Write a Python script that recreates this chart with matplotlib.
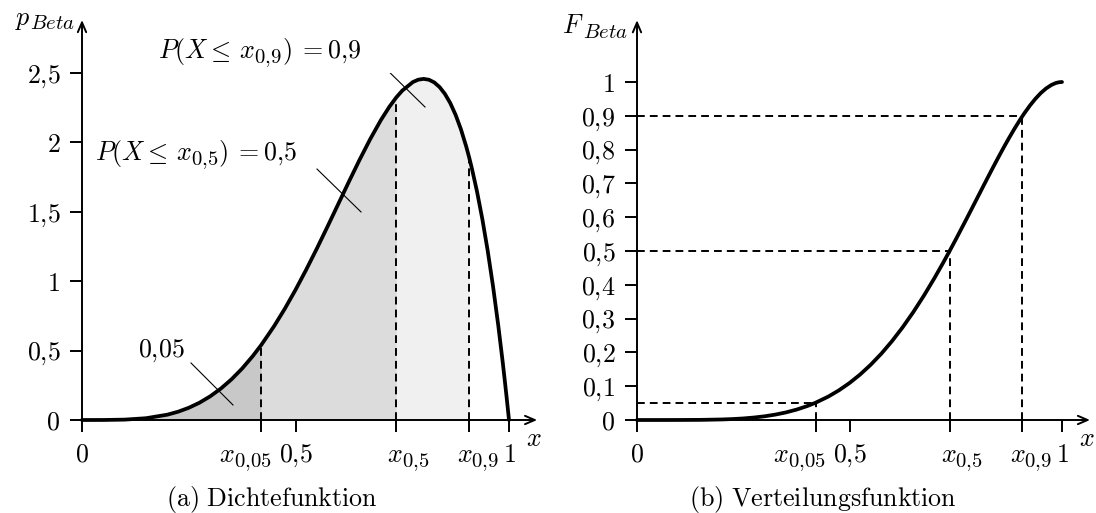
import numpy as np
import matplotlib
matplotlib.use('Agg')
import matplotlib.pyplot as plt

plt.rcParams['mathtext.fontset'] = 'cm'
plt.rcParams['font.family'] = 'DejaVu Serif'

# ---------------- data ----------------
x_vals = [0.0, 0.05, 0.1, 0.15, 0.2, 0.225, 0.25, 0.275, 0.3, 0.325, 0.35, 0.375,
          0.4, 0.42, 0.45, 0.475, 0.5, 0.525, 0.55, 0.575, 0.6, 0.625, 0.65,
          0.675, 0.7, 0.72, 0.736, 0.75, 0.775, 0.7875, 0.8, 0.8125, 0.825,
          0.8375, 0.85, 0.8625, 0.875, 0.8875, 0.9, 0.907, 0.9125, 0.925,
          0.9375, 0.95, 0.9625, 0.975, 0.985, 0.99, 0.995, 1.0]
pdf_vals = [0.0, 0.0002, 0.0027, 0.0129, 0.0384, 0.0596, 0.0879, 0.1244, 0.1701,
            0.2259, 0.2926, 0.3708, 0.4608, 0.5414, 0.6766, 0.8018, 0.9375, 1.0826,
            1.2353, 1.3937, 1.5552, 1.7166, 1.8743, 2.0240, 2.1609, 2.2574, 2.3240,
            2.3730, 2.4351, 2.4518, 2.4576, 2.4514, 2.4321, 2.3984, 2.3490, 2.2828,
            2.1982, 2.0939, 1.9683, 1.8881, 1.8200, 1.6472, 1.4484, 1.2218, 0.9655,
            0.6778, 0.4236, 0.2882, 0.1470, 0.0]
cdf_vals = [0.0, 0.0, 0.0001, 0.0004, 0.0016, 0.0028, 0.0046, 0.0073, 0.0109,
            0.0159, 0.0223, 0.0306, 0.0410, 0.0510, 0.0692, 0.0877, 0.1094, 0.1346,
            0.1636, 0.1964, 0.2333, 0.2742, 0.3191, 0.3678, 0.4202, 0.4644, 0.5010,
            0.5339, 0.5941, 0.6247, 0.6554, 0.6861, 0.7166, 0.7468, 0.7765, 0.8055,
            0.8335, 0.8603, 0.8857, 0.8992, 0.9094, 0.9311, 0.9505, 0.9672, 0.9809,
            0.9912, 0.9968, 0.9985, 0.9996, 1.0]
levels = [0.05, 0.5, 0.9]
quantiles = [0.42, 0.736, 0.907]
q_subs = ['0{,}05', '0{,}5', '0{,}9']
pdf_yticks = [0, 0.5, 1, 1.5, 2, 2.5]
pdf_yticklabels = ['0', '0{,}5', '1', '1{,}5', '2', '2{,}5']
cdf_yticks = [0, 0.1, 0.2, 0.3, 0.4, 0.5, 0.6, 0.7, 0.8, 0.9, 1.0]
cdf_yticklabels = ['0', '0{,}1', '0{,}2', '0{,}3', '0{,}4', '0{,}5', '0{,}6',
                   '0{,}7', '0{,}8', '0{,}9', '1']
fill_colors = ['#c8c8c8', '#dcdcdc', '#f0f0f0']

FS = 18.7
SFS = FS * 0.8
DROP = 5
W, H = 1096, 513
fig = plt.figure(figsize=(W / 100, H / 100), dpi=100)
renderer = fig.canvas.get_renderer()

def seq_text(xp, yp, parts, ha='left'):
    """Lay out text pieces one after another; (xp, yp) in pixels, top origin,
    yp is the baseline. parts: (string, fontsize, baseline shift px, kern px)."""
    objs, widths = [], []
    for s, fs, dy, kern in parts:
        t = fig.text(0, 0, s, fontsize=fs, ha='left', va='baseline')
        objs.append((t, dy, kern))
        widths.append(t.get_window_extent(renderer).width + kern)
    total = sum(widths)
    x0 = xp - {'left': 0, 'center': total / 2, 'right': total}[ha]
    for (t, dy, kern), w in zip(objs, widths):
        t.set_position(((x0 + kern) / W, 1 - (yp + dy) / H))
        x0 += w

def ftext(xp, yp, s, **kw):
    fig.text(xp / W, 1 - yp / H, s, fontsize=kw.pop('fontsize', FS), **kw)

axA = fig.add_axes([82 / W, 93 / H, 427 / W, 347 / H])
axB = fig.add_axes([637 / W, 93 / H, 425 / W, 338 / H])
axA.set_xlim(0, 1); axA.set_ylim(0, 2.5)
axB.set_xlim(0, 1); axB.set_ylim(0, 1)

x = np.array(x_vals)
p = np.array(pdf_vals)
F = np.array(cdf_vals)
dash = (0, (4, 2.6))

def to_px(ax, xv, yv):
    d = ax.transData.transform((xv, yv))
    return d[0], H - d[1]

def style_axes(ax, yticks, ylabels, xtop, ytop):
    for s in ax.spines.values():
        s.set_visible(False)
    ax.patch.set_visible(False)
    ax.set_xticks([0, 0.5, 1] + quantiles)
    ax.set_xticklabels([])
    ax.set_yticks(yticks)
    ax.set_yticklabels(['$' + l + '$' for l in ylabels])
    ax.tick_params(axis='x', direction='out', length=8.6, width=1.4, color='k')
    ax.tick_params(axis='y', direction='out', length=8.6, width=1.4, color='k',
                   pad=7, labelsize=FS)
    ap = dict(arrowstyle='->,head_length=0.7,head_width=0.3', lw=1.4, color='k',
              shrinkA=0, shrinkB=0)
    ax.annotate('', xy=(xtop, 0), xytext=(0, 0), arrowprops=ap, annotation_clip=False)
    ax.annotate('', xy=(0, ytop), xytext=(0, 0), arrowprops=ap, annotation_clip=False)
    # x tick labels
    base = 42
    for xv in (0, 0.5, 1):
        xp, yp = to_px(ax, xv, 0)
        s = '$0{,}5$' if xv == 0.5 else '$%d$' % xv
        ftext(xp, yp + base, s, ha='center', va='baseline')
    specs = [(0.5, -24, 'right'), (quantiles[1], -9, 'left'), (1, -10, 'right')]
    for (xv, dx, ha), sub in zip(specs, q_subs):
        xp, yp = to_px(ax, xv, 0)
        seq_text(xp + dx, yp + base,
                 [(r'$x$', FS, 0, 0), ('$' + sub + '$', SFS, DROP, -1)], ha=ha)

# ---------------- panel (a) ----------------
bounds = [0] + quantiles
for i, c in enumerate(fill_colors):
    m = (x >= bounds[i]) & (x <= bounds[i + 1])
    axA.fill_between(x[m], 0, p[m], color=c, lw=0, zorder=1)
for q in quantiles:
    axA.plot([q, q], [0, p[x == q][0]], color='k', lw=1.4, ls=dash, zorder=3)
axA.plot(x, p, color='k', lw=2.7, zorder=5, clip_on=False,
         solid_capstyle='round', solid_joinstyle='round')
style_axes(axA, pdf_yticks, pdf_yticklabels, 1.066, 2.882)

# leader lines for the area labels
axA.plot([0.2553, 0.3536], [0.4107, 0.1081], color='k', lw=0.8, zorder=6)
axA.plot([0.5504, 0.6534], [1.808, 1.499], color='k', lw=0.8, zorder=6)
axA.plot([0.7026, 0.8033], [2.558, 2.255], color='k', lw=0.8, zorder=6)
ftext(138, 357, r'$0{,}05$', ha='left', va='baseline')
for xp, yp, sub in [(95, 160, '0{,}5'), (158, 58, '0{,}9')]:
    seq_text(xp, yp, [(r'$P(X\leq\, x$', FS, 0, 0), ('$' + sub + '$', SFS, DROP, -1),
                      (r'$)\;=' + sub + '$', FS, 0, 0)])

seq_text(75, 25, [(r'$p$', FS, 0, 0), (r'$Beta$', SFS, 4, -1)], ha='right')
ftext(534, 438, r'$x$', ha='center', va='center')
ftext(272, 506, r'$\mathrm{(a)\ Dichtefunktion}$', ha='center', va='baseline')

# ---------------- panel (b) ----------------
for q, lv in zip(quantiles, levels):
    axB.plot([0, q], [lv, lv], color='k', lw=1.4, ls=dash, zorder=3)
    axB.plot([q, q], [0, lv], color='k', lw=1.4, ls=dash, zorder=3)
axB.plot(x, F, color='k', lw=2.7, zorder=5, clip_on=False,
         solid_capstyle='round', solid_joinstyle='round')
style_axes(axB, cdf_yticks, cdf_yticklabels, 1.066, 1.183)

seq_text(628, 33, [(r'$F$', FS, 0, 0), (r'$Beta$', SFS, 5, -1)], ha='right')
ftext(1087, 439, r'$x$', ha='center', va='center')
ftext(823, 506, r'$\mathrm{(b)\ Verteilungsfunktion}$', ha='center', va='baseline')

fig.savefig('out.png', dpi=100)
